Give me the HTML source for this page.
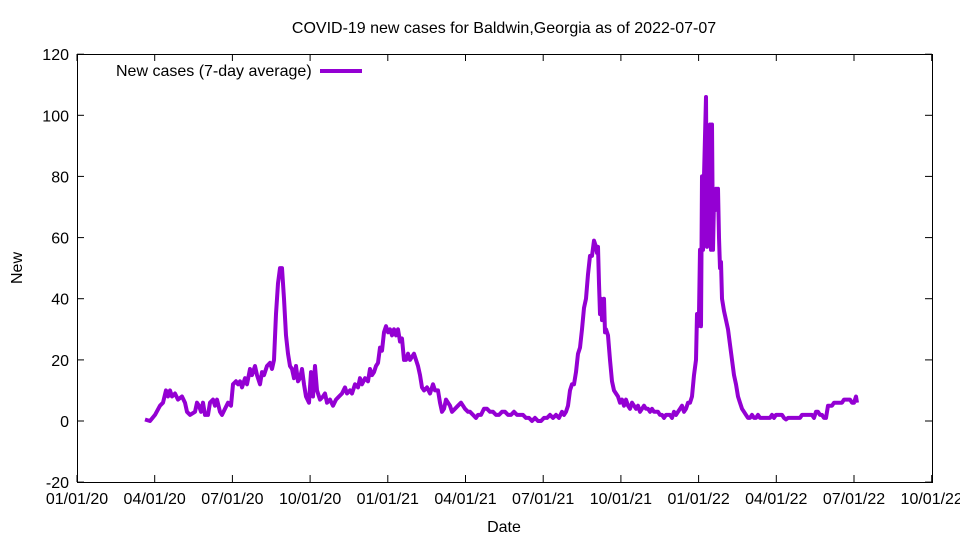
<!DOCTYPE html>
<html><head><meta charset="utf-8"><style>
body{margin:0;background:#fff}
svg text{font-family:"Liberation Sans",sans-serif;font-size:16px;fill:#000}
</style></head><body>
<svg id="s" width="960" height="540" xmlns="http://www.w3.org/2000/svg">
<rect width="960" height="540" fill="#fff"/>
<text x="504" y="33" text-anchor="middle">COVID-19 new cases for Baldwin,Georgia as of 2022-07-07</text>
<rect x="77.5" y="54.5" width="855" height="428" fill="none" stroke="#000" stroke-width="1"/>
<g id="ax"></g>
<text x="504" y="532" text-anchor="middle">Date</text>
<text transform="translate(22,268) rotate(-90)" text-anchor="middle">New</text>
<text x="116" y="76">New cases (7-day average)</text>
<line x1="320" y1="71" x2="362" y2="71" stroke="#9400d3" stroke-width="4"/>
<polyline id="p" fill="none" stroke="#9400d3" stroke-width="4" stroke-linejoin="round"/>
</svg>
<script>
var Y=function(v){return 421-3.057*v};
var ax=document.getElementById('ax'),h='';
for(var v=-20;v<=120;v+=20){var y=Y(v).toFixed(1);h+='<line x1="77" y1="'+y+'" x2="84" y2="'+y+'" stroke="#000"/><line x1="925" y1="'+y+'" x2="932" y2="'+y+'" stroke="#000"/><text x="69" y="'+(+y+6)+'" text-anchor="end">'+v+'</text>';}
var L=['01/01/20','04/01/20','07/01/20','10/01/20','01/01/21','04/01/21','07/01/21','10/01/21','01/01/22','04/01/22','07/01/22','10/01/22'];
for(var i=0;i<12;i++){var x=77+i*77.7;h+='<line x1="'+x+'" y1="482" x2="'+x+'" y2="475" stroke="#000"/><line x1="'+x+'" y1="54" x2="'+x+'" y2="61" stroke="#000"/><text x="'+x+'" y="504" text-anchor="middle">'+L[i]+'</text>';}
ax.innerHTML=h;
var d=[145,0.5,150,0,155,2,160,5,163,6,166,10,168,8,170,10,172,8,175,9,178,7,182,8,185,6,187,3,190,2,195,3,197,6,199,5,201,3,203,6,205,2,208,2,210,6,213,7,215,5,217,7,220,3,222,2,225,4,228,6,231,5,233,12,236,13,238,12,240,13,242,11,245,14,247,12,250,17,252,15,255,18,257,15,260,12,262,16,264,15,267,18,270,19,272,17,274,20,276,35,278,45,280,50,282,50,284,40,286,28,288,22,290,18,292,17,294,14,296,18,298,13,300,14,302,17,304,12,306,8,309,6,311,16,313,8,315,18,317,10,320,7,323,8,325,9,327,6,330,7,333,5,336,7,339,8,342,9,345,11,347,9,350,10,352,9,355,12,358,11,360,14,362,12,365,14,368,13,370,17,372,15,374,16,376,18,378,19,380,24,382,23,384,29,386,31,388,29,390,30,392,28,394,30,396,28,398,30,400,26,402,27,404,20,406,20,408,22,410,20,412,21,414,22,416,20,418,18,420,15,422,11,424,10,427,11,430,9,433,12,435,10,438,10,440,6,442,3,444,4,446,7,448,6,450,5,452,3,455,4,458,5,461,6,463,5,465,4,468,3,470,3,473,2,476,1,478,2,481,2,484,4,487,4,490,3,493,3,496,2,499,2,502,3,505,3,508,2,511,2,514,3,517,2,520,2,523,2,526,1,529,1,532,0,535,1,538,0,541,0,544,1,547,1,550,2,553,1,556,2,559,1,562,3,564,2,566,3,568,5,570,10,572,12,574,12,576,16,578,22,580,24,582,30,584,37,586,40,588,48,590,54,592,54,594,59,596,57,597,55,598,57,599,45,600,35,601,40,602,33,603,37,604,40,605,29,606,30,608,28,610,20,612,13,614,10,616,9,618,8,620,6,622,7,624,5,626,7,628,5,630,4,632,6,634,5,636,4,638,5,640,3,642,4,644,5,646,4,648,4,650,3,652,4,654,3,656,3,658,3,660,2,662,2,664,1,666,2,668,2,670,2,672,1,674,3,676,2,678,3,680,4,682,5,684,3,686,4,688,6,690,6,692,8,694,15,696,20,697,35,698,31,699,35,700,56,701,31,702,80,703,56,704,80,706,106,707,57,708,90,709,72,710,97,711,56,712,97,713,56,714,72,715,69,716,76,717,70,718,76,719,60,720,50,721,52,722,40,724,36,726,33,728,30,730,25,732,20,734,15,736,12,738,8,740,6,742,4,744,3,746,2,748,1,750,1,752,2,754,1,756,1,758,2,760,1,762,1,764,1,766,1,768,1,770,1,772,2,774,1,776,2,778,2,780,2,782,2,784,1,786,0.5,788,1,790,1,792,1,794,1,796,1,798,1,800,1,802,2,804,2,806,2,808,2,810,2,812,2,814,1,816,3,818,3,820,2,822,2,824,1,826,1,828,5,830,5,832,5,834,6,836,6,838,6,840,6,842,6,844,7,846,7,848,7,850,7,852,6,854,6,856,8,857,6];
var pts=[];for(var i=0;i<d.length;i+=2)pts.push(d[i]+','+Y(d[i+1]).toFixed(1));
document.getElementById('p').setAttribute('points',pts.join(' '));
</script>
</body></html>
